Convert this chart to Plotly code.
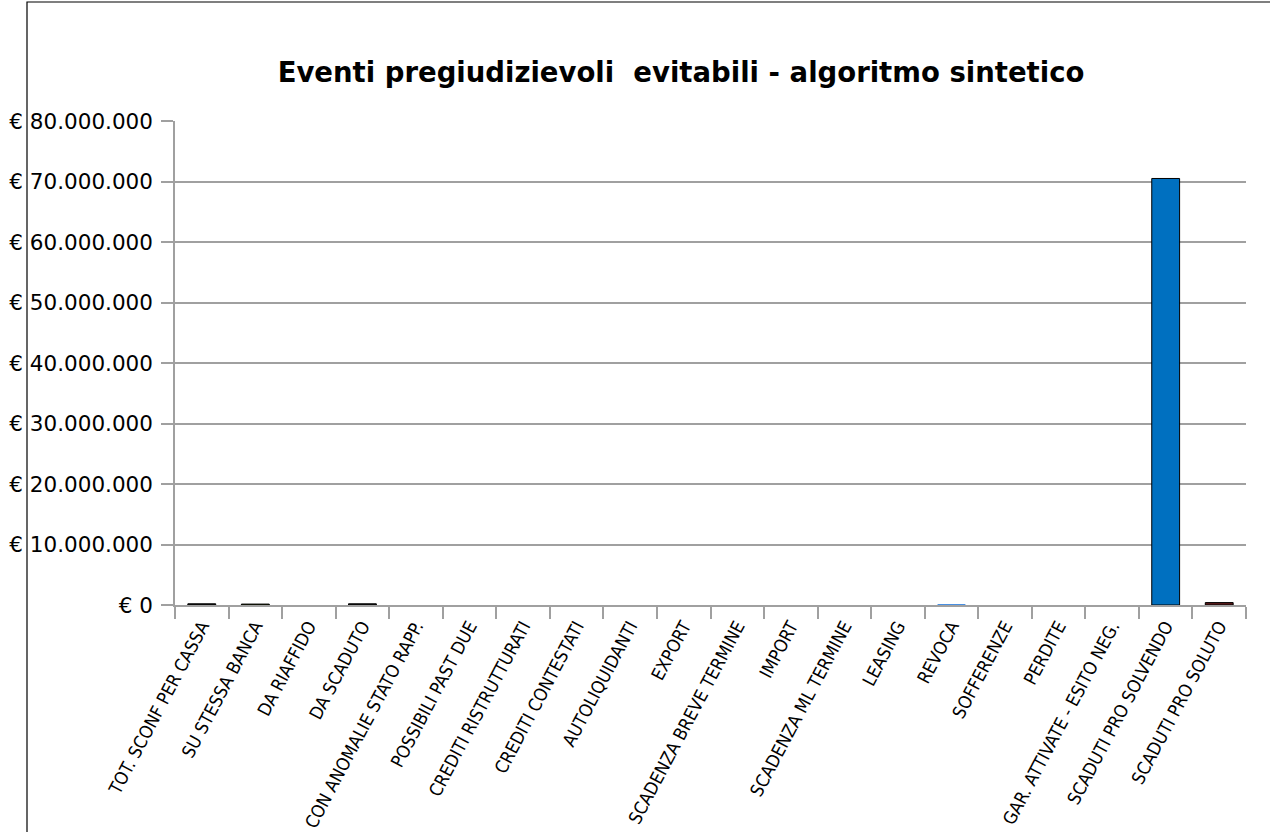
import plotly.graph_objects as go

categories = [
    "TOT. SCONF PER CASSA", "SU STESSA BANCA", "DA RIAFFIDO", "DA SCADUTO",
    "CON ANOMALIE STATO RAPP.", "POSSIBILI PAST DUE", "CREDITI RISTRUTTURATI",
    "CREDITI CONTESTATI", "AUTOLIQUIDANTI", "EXPORT", "SCADENZA BREVE TERMINE",
    "IMPORT", "SCADENZA ML TERMINE", "LEASING", "REVOCA", "SOFFERENZE", "PERDITE",
    "GAR. ATTIVATE - ESITO NEG.", "SCADUTI PRO SOLVENDO", "SCADUTI PRO SOLUTO",
]
values = [
    200000, 150000, 0, 200000, 0, 0, 0, 0, 0, 0, 0, 0, 0, 0, 100000, 0, 0, 0,
    70500000, 400000,
]
bar_colors = [
    "#1a1a1a", "#314004", "#aecf00", "#1a1a1a", "#ff950e", "#c5000b", "#0084d1",
    "#004586", "#ff420e", "#ffd320", "#579d1c", "#7e0021", "#83caff", "#4b1f6f",
    "#4a90e2", "#314004", "#aecf00", "#ff950e", "#0070c0", "#5a1a1a",
]
y_tick_vals = [0, 10000000, 20000000, 30000000, 40000000, 50000000, 60000000, 70000000, 80000000]
y_tick_text = ["€ 0", "€ 10.000.000", "€ 20.000.000", "€ 30.000.000", "€ 40.000.000",
               "€ 50.000.000", "€ 60.000.000", "€ 70.000.000", "€ 80.000.000"]
title_text = "Eventi pregiudizievoli\u00a0 evitabili - algoritmo sintetico"

outline_widths = [1 if (v > 0 and c != "#4a90e2") else 0 for v, c in zip(values, bar_colors)]

fig = go.Figure(go.Bar(
    x=categories, y=values,
    marker=dict(color=bar_colors, line=dict(color="#000000", width=outline_widths)),
    width=0.52,
))

L, R, T, B = 175, 24, 121, 227
W, H = 1270 - L - R, 832 - T - B

fig.update_layout(
    width=1270, height=832,
    margin=dict(l=L, r=R, t=T, b=B, pad=0, autoexpand=False),
    paper_bgcolor="white", plot_bgcolor="white",
    showlegend=False,
    font=dict(family="DejaVu Sans", color="#000000"),
    title=dict(text=title_text, x=681 / 1270, xanchor="center",
               y=1 - 72 / 832, yanchor="middle",
               font=dict(family="DejaVu Sans", size=27.5, color="#000000", weight="bold")),
    xaxis=dict(
        type="category", showgrid=False, showline=True, linecolor="#a0a0a0", linewidth=1.5,
        ticks="outside", tickson="boundaries", ticklen=12, tickcolor="#a0a0a0", tickwidth=1.5,
        tickangle=-62, tickfont=dict(family="DejaVu Sans Condensed, DejaVu Sans", size=18),
        ticklabelstandoff=2, automargin=False,
        range=[-0.5, len(categories) - 0.5],
    ),
    yaxis=dict(
        range=[0, 80000000], tickvals=y_tick_vals, ticktext=y_tick_text,
        showgrid=True, gridcolor="#a0a0a0", gridwidth=1.5,
        showline=True, linecolor="#a0a0a0", linewidth=1.5,
        ticks="outside", ticklen=12, tickcolor="#a0a0a0", tickwidth=1.5,
        tickfont=dict(family="DejaVu Sans", size=21.5),
        ticklabelstandoff=4, automargin=False,
        zeroline=False,
    ),
    shapes=[dict(
        type="rect", xref="paper", yref="paper",
        x0=(27 - L) / W, x1=(1272 - L) / W,
        y0=(605 - 834) / H, y1=(605 - 2) / H,
        line=dict(color="#000000", width=1.2), fillcolor="rgba(0,0,0,0)",
        layer="above",
    )],
)

fig.write_html("out.html")
